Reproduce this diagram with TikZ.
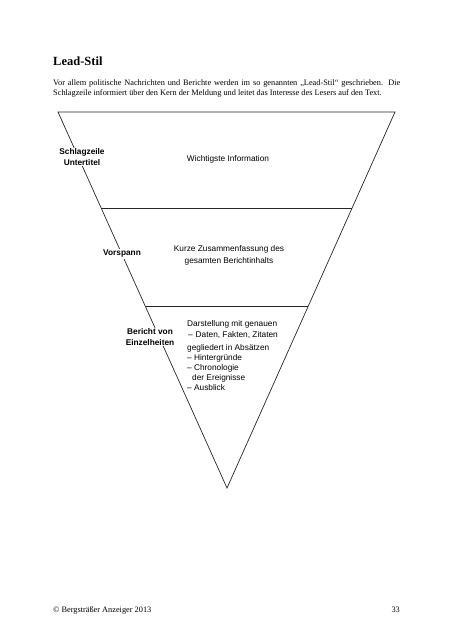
\documentclass[tikz,border=0pt]{standalone}
\usepackage{fontspec}
\setmainfont{Liberation Serif}
\newfontfamily\diagfont{Liberation Sans}
\usetikzlibrary{calc}
\begin{document}
\begin{tikzpicture}[x=1pt,y=-1pt,
  edge/.style={line width=0.7pt, draw=black!85},
  lbl/.style={font=\diagfont\bfseries\fontsize{8.3}{10.5}\selectfont, align=center, fill=white, inner sep=1pt},
  info/.style={font=\diagfont\fontsize{8.3}{11.8}\selectfont, align=center, inner sep=0pt},
  infoline/.style={font=\diagfont\fontsize{8.3}{10}\selectfont, anchor=base west, inner sep=0pt},
  body/.style={font=\fontsize{8.3}{10}\selectfont, anchor=base west, inner sep=0pt},
]
\useasboundingbox (0,0) rectangle (453,640);
% header
\node[anchor=base west, inner sep=0pt, font=\bfseries\fontsize{12.5}{14}\selectfont] (title) at (53,65.5) {Lead-Stil};
\node[body] (intro1) at (53,85.5) {\hbox to 347pt{Vor allem politische Nachrichten und Berichte werden im so genannten „Lead-Stil“ geschrieben. Die}};
\node[body] (intro2) at (53,95.5) {Schlagzeile informiert über den Kern der Meldung und leitet das Interesse des Lesers auf den Text.};
% triangle
\coordinate (TL) at (58,112);
\coordinate (TR) at (395,112);
\coordinate (A) at (227,488);
\coordinate (L1) at ($(TL)!0.2553!(A)$);
\coordinate (R1) at ($(TR)!0.2553!(A)$);
\coordinate (L2) at ($(TL)!0.516!(A)$);
\coordinate (R2) at ($(TR)!0.516!(A)$);
\draw[edge, line join=miter] (TL) -- (TR) -- (A) -- cycle;
\draw[edge] (L1) -- (R1);
\draw[edge] (L2) -- (R2);
% labels
\node[lbl] (schlag) at (82,157) {Schlagzeile\\Untertitel};
\node[info] (wicht) at (228,159) {Wichtigste Information};
\node[lbl] (vorspann) at (122,254) {Vorspann};
\node[info] (kurz) at (229,255) {Kurze Zusammenfassung des\\gesamten Berichtinhalts};
\node[lbl] (bericht) at (150,337) {Bericht von\\Einzelheiten};
\node[infoline] (d1) at (187,326) {Darstellung mit genauen};
\node[infoline] (d2) at (188,337) {–\hspace{0.35em}Daten, Fakten, Zitaten};
\node[infoline] (d3) at (187,350) {gegliedert in Absätzen};
\node[infoline] (d4) at (187,360) {– Hintergründe};
\node[infoline] (d5) at (187,370) {– Chronologie};
\node[infoline] (d6) at (192,380) {der Ereignisse};
\node[infoline] (d7) at (187,390) {– Ausblick};
% footer
\node[body, font=\fontsize{8.3}{9}\selectfont] (foot) at (53,612) {© Bergsträßer Anzeiger 2013};
\node[anchor=base east, inner sep=0pt, font=\fontsize{8.3}{9}\selectfont] (page) at (400,612) {33};
\end{tikzpicture}
\end{document}
